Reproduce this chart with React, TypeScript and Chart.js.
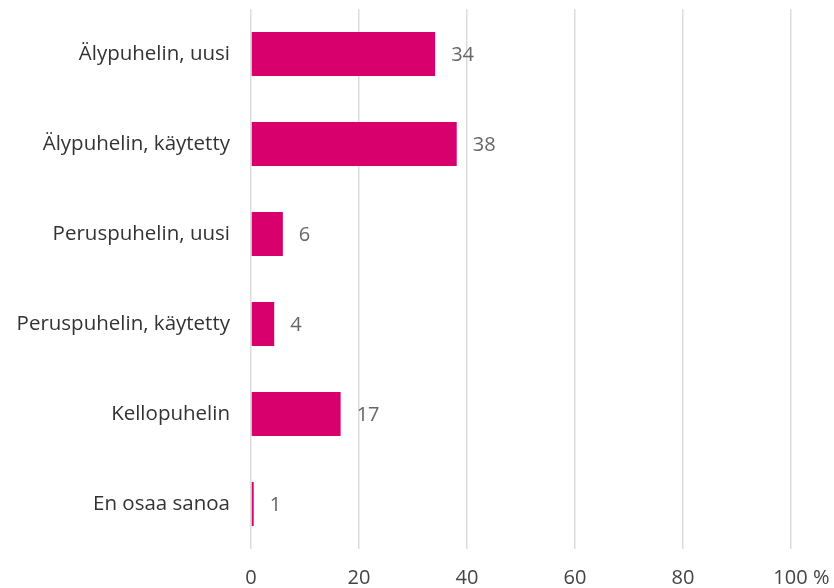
import React, { useEffect, useRef } from "react";
import { Chart, registerables } from "chart.js";

Chart.register(...registerables);

const categories = [
  "Älypuhelin, uusi",
  "Älypuhelin, käytetty",
  "Peruspuhelin, uusi",
  "Peruspuhelin, käytetty",
  "Kellopuhelin",
  "En osaa sanoa",
];
const values = [34.1, 38.1, 5.9, 4.3, 16.6, 0.5];
const xTicks = [0, 20, 40, 60, 80, 100];

const FONT = "'Open Sans', sans-serif";

const valueLabels = {
  id: "valueLabels",
  afterDatasetsDraw(chart: any) {
    const ctx = chart.ctx;
    const meta = chart.getDatasetMeta(0);
    ctx.save();
    ctx.font = `20px ${FONT}`;
    ctx.fillStyle = "#666666";
    ctx.textAlign = "left";
    ctx.textBaseline = "middle";
    meta.data.forEach((bar: any, i: number) => {
      ctx.fillText(String(Math.round(values[i])), bar.x + 16, bar.y + 1);
    });
    ctx.restore();
  },
};

export default function App() {
  const ref = useRef<HTMLCanvasElement>(null);
  useEffect(() => {
    if (!ref.current) return;
    const chart = new Chart(ref.current, {
      type: "bar",
      data: {
        labels: categories,
        datasets: [
          {
            data: values,
            backgroundColor: "#d7006d",
            borderWidth: 0,
            categoryPercentage: 1,
            barPercentage: 0.49,
          },
        ],
      },
      options: {
        indexAxis: "y",
        animation: false,
        responsive: true,
        maintainAspectRatio: false,
        layout: { padding: { top: 9, right: 43, left: 0, bottom: 0 } },
        plugins: { legend: { display: false }, tooltip: { enabled: false } },
        scales: {
          x: {
            min: 0,
            max: 100,
            afterBuildTicks: (scale: any) => {
              scale.ticks = xTicks.map((v) => ({ value: v }));
            },
            afterFit: (scale: any) => {
              scale.height = 39;
              scale.paddingLeft = 0;
              scale.paddingRight = 0;
            },
            grid: { color: "#dcdcdc", lineWidth: 1.5, drawTicks: false },
            border: { display: false },
            ticks: {
              padding: 17,
              color: "#444444",
              font: { family: FONT, size: 20 },
              maxRotation: 0,
              callback: (v: any) => (v === 100 ? "    100 %" : String(v)),
            },
          },
          y: {
            afterFit: (scale: any) => {
              scale.width = 251;
              scale.paddingTop = 0;
              scale.paddingBottom = 0;
            },
            grid: { display: false, drawTicks: false },
            border: { display: false },
            ticks: {
              padding: 21,
              color: "#333333",
              font: { family: FONT, size: 20.5 },
            },
          },
        },
      },
      plugins: [valueLabels],
    });
    return () => chart.destroy();
  }, []);
  return (
    <div style={{ position: "absolute", left: 0, top: 0, width: 834, height: 588, background: "#fff" }}>
      <canvas ref={ref} />
    </div>
  );
}
